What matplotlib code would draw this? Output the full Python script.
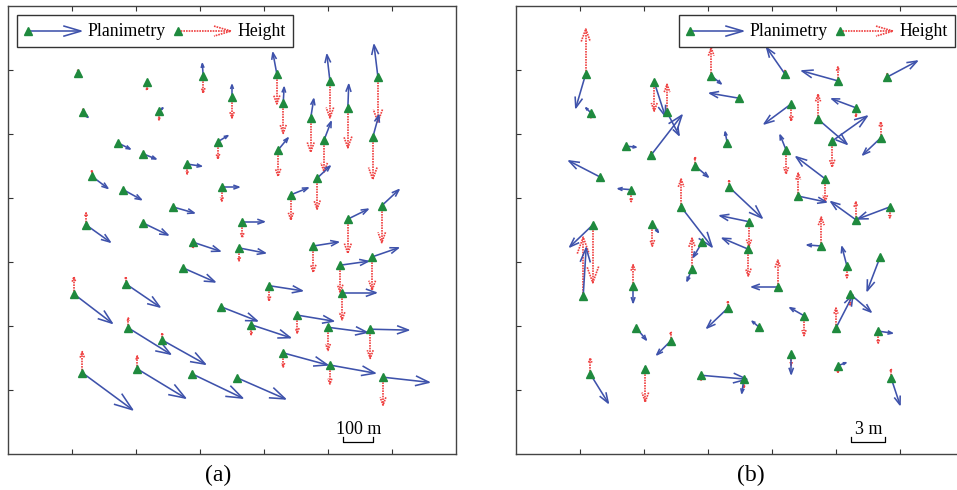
import numpy as np
import matplotlib
matplotlib.use("Agg")
import matplotlib.pyplot as plt
from matplotlib.patches import Rectangle

plt.rcParams['font.family'] = ['Liberation Serif', 'DejaVu Serif']

# --- (a) control points: grid position, planimetric error (E, N) and height error, in m
xa = [1.09, 2.17, 3.05, 4.20, 5.03, 5.78, 1.17, 2.36, 3.50, 4.30, 4.73, 5.31, 4.94, 5.70,
      1.72, 2.11, 3.28, 4.22, 2.80, 1.31, 1.80, 3.34, 4.42, 4.83, 2.58, 1.22, 2.11, 3.66,
      5.31, 5.84, 2.89, 3.61, 4.77, 5.19, 5.69, 2.73, 1.03, 1.84, 4.08, 5.22, 3.33, 4.52,
      3.80, 5.00, 5.66, 1.88, 2.41, 4.30, 5.03, 5.86, 1.16, 2.02, 2.88, 3.58]
ya = [5.95, 5.81, 5.91, 5.94, 5.83, 5.89, 5.34, 5.36, 5.58, 5.48, 5.25, 5.41, 4.91, 4.95,
      4.86, 4.69, 4.88, 4.75, 4.53, 4.34, 4.13, 4.17, 4.05, 4.31, 3.86, 3.58, 3.61, 3.63,
      3.67, 3.88, 3.31, 3.22, 3.25, 2.95, 3.08, 2.91, 2.50, 2.66, 2.63, 2.52, 2.30, 2.17,
      2.02, 1.98, 1.95, 1.97, 1.78, 1.58, 1.39, 1.20, 1.27, 1.33, 1.25, 1.19]
dEa = [3, 0, -3, -13, -10, -13, 17, 13, 0, 3, 10, 3, 23, 20,
       40, 43, 33, 33, 47, 53, 60, 57, 57, 43, 70, 80, 83, 73,
       67, 57, 90, 87, 83, 93, 87, 107, 127, 113, 110, 113, 120, 120,
       130, 130, 127, 140, 143, 147, 150, 153, 167, 160, 167, 160]
dNa = [3, 0, 40, 70, 87, 107, -17, 10, 40, 53, 63, 77, 60, 73,
       -20, -17, 20, 40, -7, -40, -33, 0, 23, 40, -20, -57, -40, 0,
       33, 53, -30, -17, 13, 13, 30, -47, -97, -77, -17, 0, -47, -20,
       -43, -17, -3, -87, -80, -40, -27, -17, -123, -97, -80, -70]
dHa = [10, -27, -57, -100, -123, -150, 10, -30, -70, -100, -113, -133, -107, -140,
       0, -5, -57, -87, -33, 20, 0, -47, -83, -103, 0, 40, 0, -53,
       -113, -123, -20, -43, -87, -90, -110, 0, 57, 23, -50, -90, 0, -60,
       -33, -77, -97, 33, 23, -47, -63, -93, 70, 43, 7, -10]

# --- (b) check points
xb = [1.09, 1.17, 2.16, 2.36, 2.11, 1.72, 1.31, 1.80, 2.80, 2.58, 3.05, 3.48, 3.30, 3.33,
      4.20, 5.03, 5.80, 4.30, 4.72, 5.31, 4.94, 5.70, 4.22, 4.83, 4.41, 5.31, 5.84, 1.20,
      1.05, 2.13, 1.83, 2.91, 2.75, 3.63, 3.64, 3.31, 1.88, 2.42, 1.16, 2.02, 2.89, 3.56,
      4.77, 4.09, 5.17, 5.69, 5.22, 5.00, 4.50, 3.80, 5.66, 4.30, 5.03, 5.86]
yb = [5.94, 5.33, 5.81, 5.34, 4.67, 4.81, 4.33, 4.13, 4.50, 3.86, 5.91, 5.56, 4.86, 4.17,
      5.94, 5.83, 5.89, 5.47, 5.23, 5.41, 4.89, 4.94, 4.75, 4.30, 4.03, 3.66, 3.86, 3.58,
      2.47, 3.59, 2.63, 3.31, 2.89, 3.20, 3.63, 2.28, 1.97, 1.77, 1.25, 1.33, 1.23, 1.17,
      3.25, 2.61, 2.94, 3.08, 2.50, 1.97, 2.16, 1.98, 1.92, 1.56, 1.38, 1.19]
dEb = [-0.88, -0.44, 0.97, 1.06, 2.73, 0.88, -2.73, -1.15, 1.15, 2.73, 0.88, -2.56, -0.18, 2.91,
       -1.59, -3.18, 2.65, -2.38, 2.56, -2.12, 3.09, -1.59, -0.53, -2.56, 2.47, -2.20, -2.82, -2.03,
       0.26, 0.53, 0.00, -0.79, -0.44, -2.29, -2.56, -1.85, 0.88, -1.24, 1.59, 0.00, 4.06, -0.18,
       -1.24, -2.29, -0.44, -1.15, 1.85, 1.50, -1.24, -0.62, 1.24, 0.00, 0.71, 0.79]
dNb = [-3.00, 0.44, -3.00, -2.03, 3.53, -0.09, 1.41, 0.09, -0.97, -3.53, -0.71, 0.44, 0.97, -2.73,
       2.29, 0.88, 1.41, -1.76, -2.20, 0.79, 2.20, -1.50, 1.32, 1.94, -0.53, 1.59, -1.06, -1.94,
       4.24, -0.71, -1.50, -1.32, -1.06, 0.97, 0.53, -1.76, -1.06, -1.24, -2.56, 0.18, -0.35, -1.24,
       0.09, 0.00, 1.68, -3.00, -1.59, 2.91, 0.71, 0.53, -0.18, -1.76, 0.26, -2.38]
dHb = [3.97, -0.44, -2.56, 2.47, 0.30, -0.35, 0.00, -1.06, 0.79, 2.47, 2.47, -0.35, 0.00, 0.62,
       0.30, 1.24, 0.30, -1.50, 2.20, -0.79, -2.29, 1.41, -2.12, -2.03, 2.03, 1.59, -0.97, -5.12,
       5.20, -1.94, 1.85, 0.00, 2.73, -2.38, -2.20, 0.62, 0.00, 0.79, 1.41, -2.91, -0.44, -0.79,
       2.56, 2.38, -1.06, 0.00, -0.97, 1.76, -1.76, 0.00, -1.06, -0.97, -0.62, 0.79]

# scale bars: (metres, length on the grid)
bar_a = (100, 0.47)
bar_b = (3, 0.53)

BLUE = '#3e52ab'
RED = '#ef3f3f'
GREEN = '#1f8a3e'


def arrow(ax, x, y, u, v, hl=None, hw=None, **kw):
    L = np.hypot(u, v)
    if L < 1e-6:
        return
    if hl is None:
        hl = 0.28 * L
    if hw is None:
        hw = 0.36 * hl
    ux, uy = u / L, v / L
    tx, ty = x + u, y + v
    bx, by = tx - hl * ux, ty - hl * uy
    ax.plot([x, tx], [y, ty], solid_capstyle='butt', **kw)
    ax.plot([bx - hw * uy, tx, bx + hw * uy], [by + hw * ux, ty, by - hw * ux], **kw)


blue_kw = dict(color=BLUE, lw=1.15, zorder=3)
red_kw = dict(color=RED, lw=1.2, ls=(0, (1.0, 0.6)), zorder=2)


def legend(ax, left):
    # left edge of the box, axes fraction; offsets follow the box layout
    p = 1.0 / 448
    top, bot, row = 0.980, 0.908, 0.944
    ax.add_patch(Rectangle((left, bot), 276 * p, top - bot, transform=ax.transAxes,
                           facecolor='white', edgecolor='#333333', lw=1.0, zorder=6))
    for dx, kw, lab in [(11, blue_kw, 'Planimetry'), (161, red_kw, 'Height')]:
        x0 = left + dx * p
        k = dict(kw)
        k.update(transform=ax.transAxes, zorder=7)
        arrow(ax, x0, row, 53 * p, 0, hl=17 * p, hw=5 * p, **k)
        ax.plot([x0], [row], marker='^', ms=5.5, color=GREEN, transform=ax.transAxes, zorder=8)
        ax.text(x0 + 59 * p, row, lab, transform=ax.transAxes, fontsize=12.8,
                va='center', ha='left', zorder=8)


def panel(ax, xs, ys, dE, dN, dH, bar, bar_label):
    meters, length = bar
    s = length / meters
    for x, y, e, n, h in zip(xs, ys, dE, dN, dH):
        arrow(ax, x, y, 0, h * s, **red_kw)
        arrow(ax, x, y, e * s, n * s, **blue_kw)
    ax.plot(xs, ys, ls='none', marker='^', ms=5.5, color=GREEN, zorder=4)

    # scale bar
    x0, y0 = 5.24, 0.19
    ax.plot([x0, x0, x0 + length, x0 + length], [y0 + 0.08, y0, y0, y0 + 0.08],
            color='black', lw=0.9)
    ax.text(x0 + length / 2, y0 + 0.06, bar_label, ha='center', va='bottom', fontsize=13)

    ax.set_xlim(0, 7)
    ax.set_ylim(0, 7)
    ax.set_xticks(range(1, 7))
    ax.set_yticks(range(1, 7))
    ax.tick_params(direction='in', length=3.5, width=0.8, color='#333333',
                   top=True, right=False, labelbottom=False, labelleft=False)
    for sp in ax.spines.values():
        sp.set_color('#444444')
        sp.set_linewidth(1.0)


fig = plt.figure(figsize=(9.57, 4.9), dpi=100)
W, H = 957.0, 490.0
ax1 = fig.add_axes([8 / W, 36 / H, 448 / W, 448 / H])
ax2 = fig.add_axes([516 / W, 36 / H, 448 / W, 448 / H])

panel(ax1, xa, ya, dEa, dNa, dHa, bar_a, '100 m')
panel(ax2, xb, yb, dEb, dNb, dHb, bar_b, '3 m')
legend(ax1, 9 / 448)
legend(ax2, 163 / 448)

fig.text(218 / W, 1 - 475 / H, '(a)', ha='center', va='center', fontsize=17)
fig.text(751 / W, 1 - 475 / H, '(b)', ha='center', va='center', fontsize=17)

fig.savefig('out.png', dpi=100)
